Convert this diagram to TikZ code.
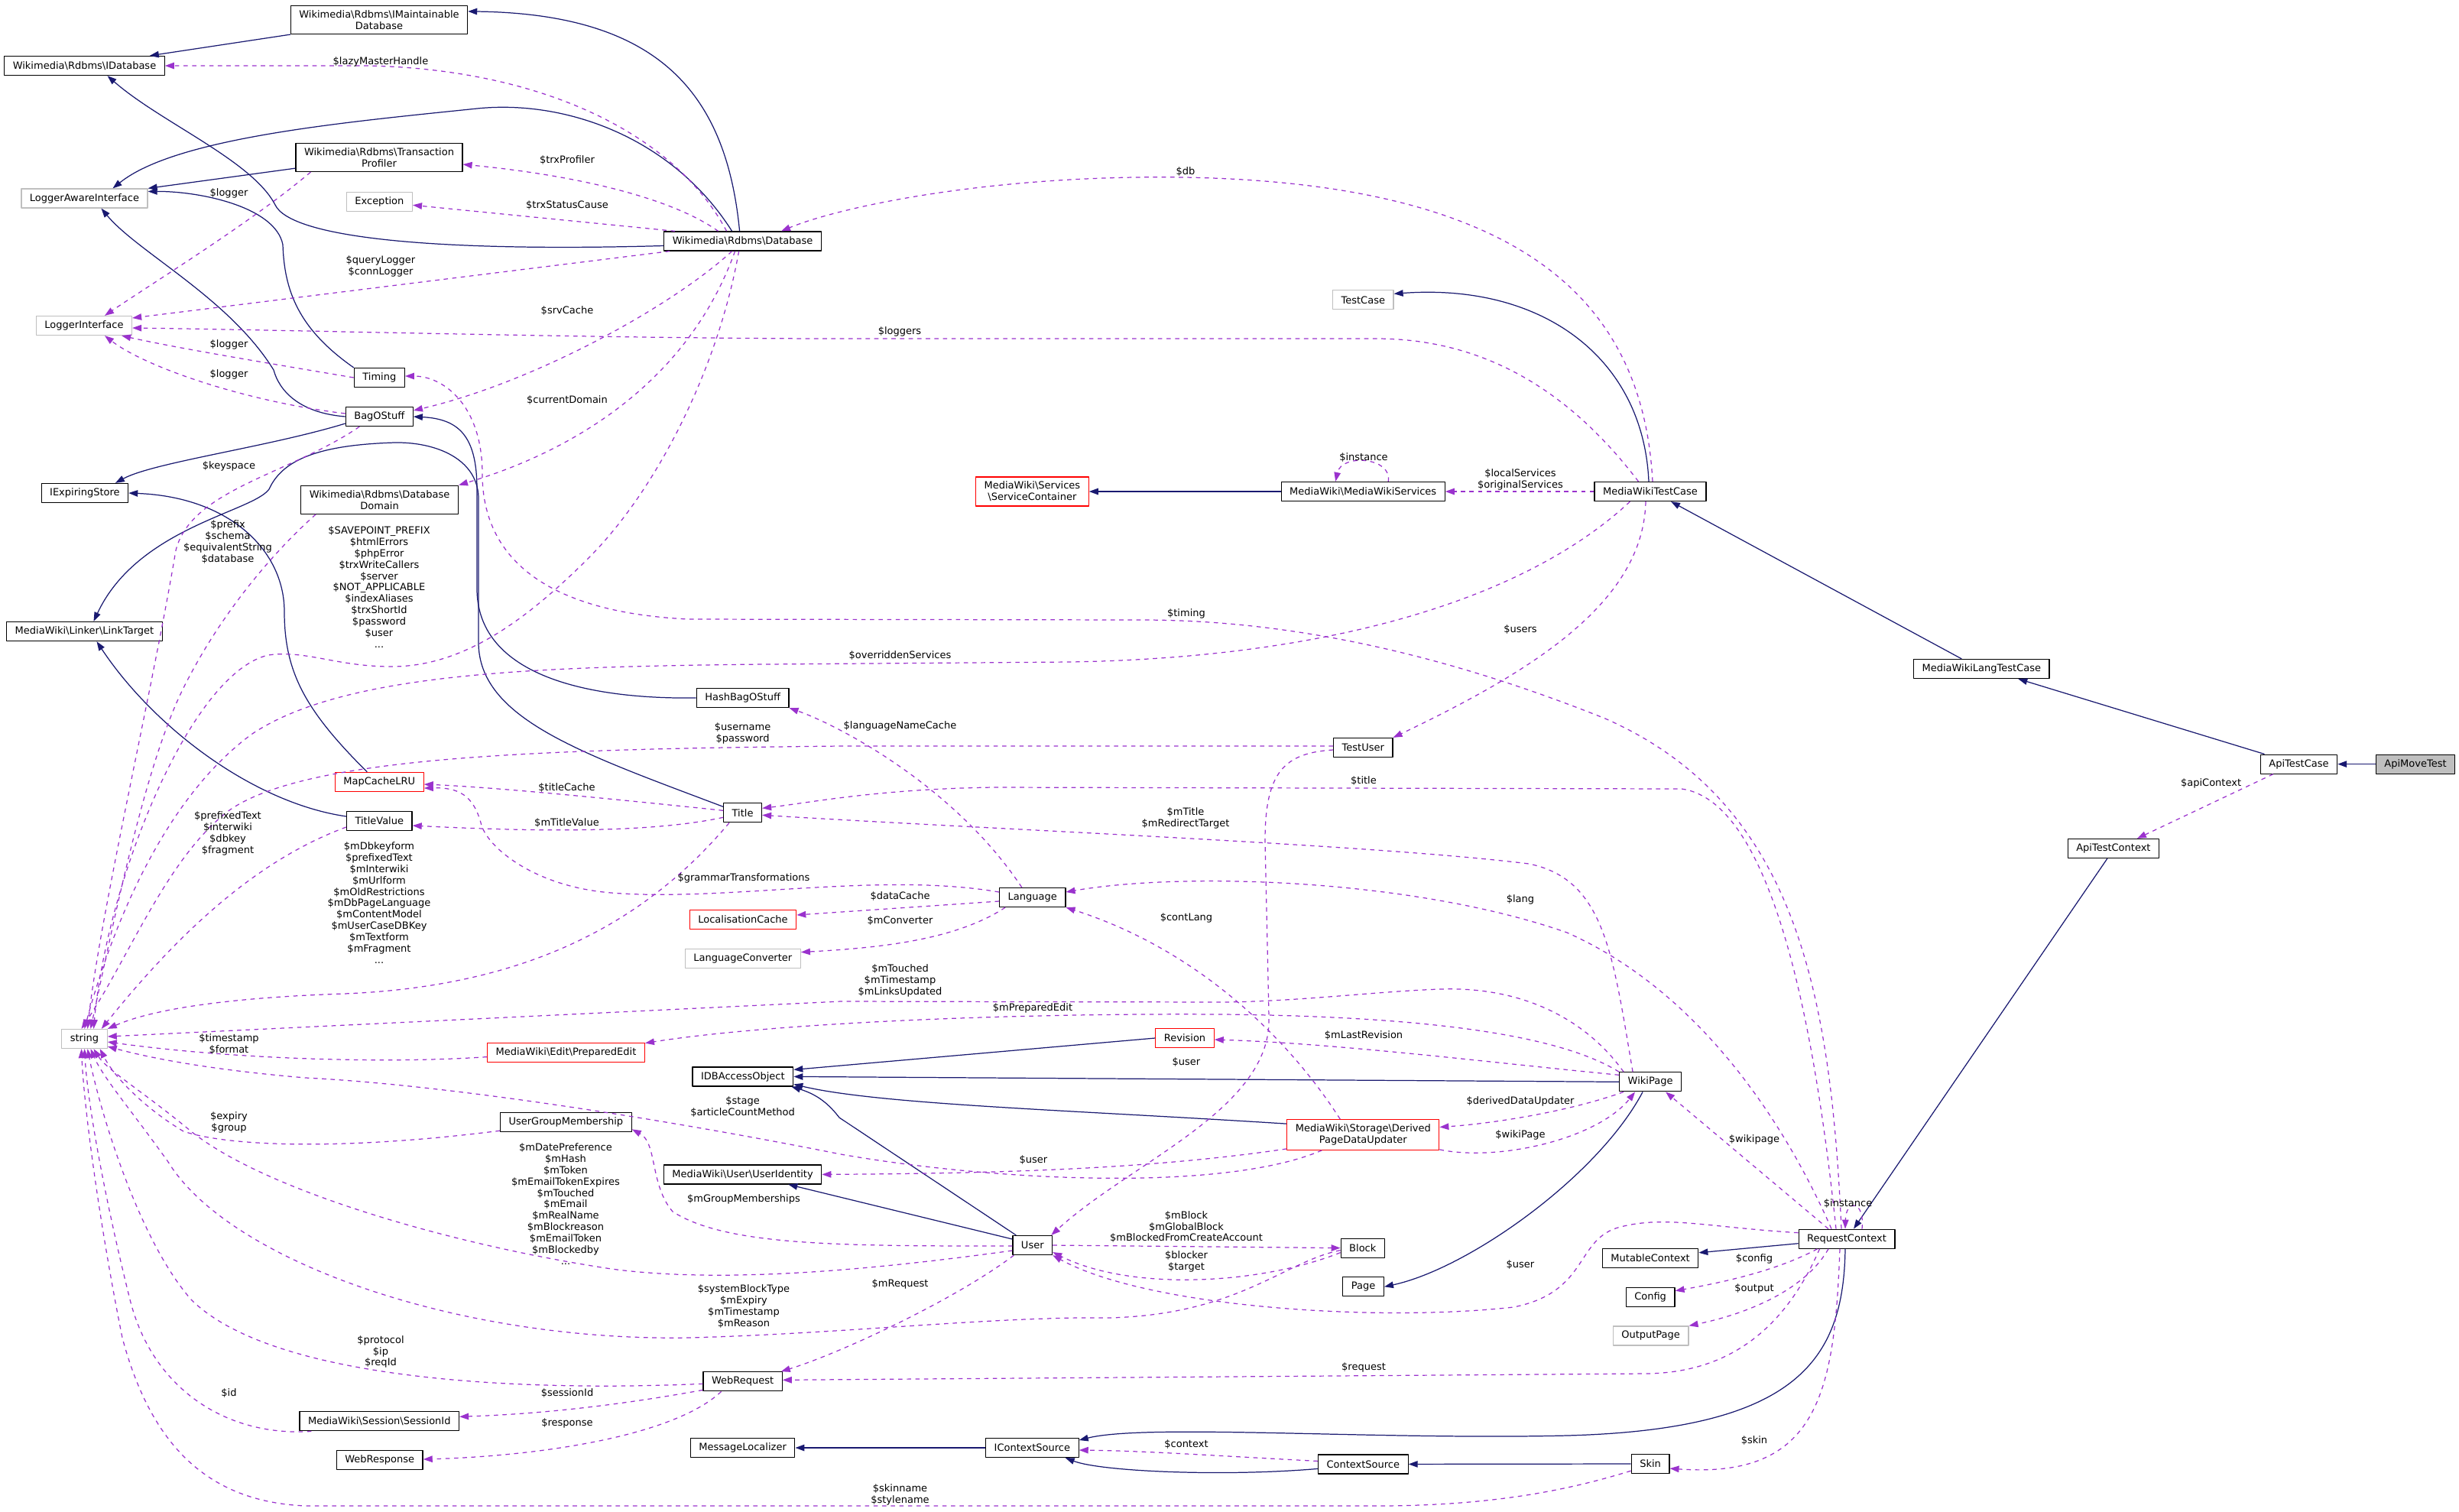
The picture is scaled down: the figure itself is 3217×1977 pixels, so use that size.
\documentclass[tikz,border=0pt]{standalone}
\usepackage{fontspec}
\setmainfont{DejaVu Sans}
\usetikzlibrary{arrows.meta,calc}
\definecolor{midnight}{HTML}{191970}
\definecolor{orchid}{HTML}{9A32CD}
\definecolor{boxgray}{HTML}{BFBFBF}
\newcommand\dgfont{\fontsize{3.7}{4.25}\selectfont}
\newcommand\bs{\textbackslash}

\begin{document}
\begin{tikzpicture}[x=0.1mm,y=-0.1mm,font=\dgfont,line join=round]
  \tikzset{
    cls/.style={draw=black,fill=white,line width=0.35pt,inner xsep=1.1mm,inner ysep=0.6mm,minimum height=2.5mm,align=center},
    ext/.style={cls,draw=boxgray},
    trunc/.style={cls,draw=red},
    self/.style={cls,fill=boxgray},
    inh/.style={midnight,line width=0.35pt,-{Triangle[length=1.2mm,width=0.85mm]}},
    use/.style={orchid,line width=0.35pt,dash pattern=on 1.6pt off 1.6pt,-{Triangle[length=1.2mm,width=0.85mm]}},
    lbl/.style={align=center,inner sep=0pt}
  }
  \useasboundingbox (0,0) rectangle (3217,1977);
  % classes
  \node[cls] (imdb) at (496,26) {Wikimedia\bs Rdbms\bs IMaintainable\\Database};
  \node[cls] (idb) at (110.5,86) {Wikimedia\bs Rdbms\bs IDatabase};
  \node[cls] (tprof) at (496,206) {Wikimedia\bs Rdbms\bs Transaction\\Profiler};
  \node[ext] (lai) at (110.5,259.5) {LoggerAwareInterface};
  \node[ext] (exc) at (496.4,264.3) {Exception};
  \node[cls] (db) at (971.6,315.5) {Wikimedia\bs Rdbms\bs Database};
  \node[ext] (li) at (110,426) {LoggerInterface};
  \node[cls] (timing) at (496.3,494) {Timing};
  \node[cls] (bag) at (496.3,545) {BagOStuff};
  \node[cls] (ies) at (110.9,645) {IExpiringStore};
  \node[cls] (dom) at (496.6,653.7) {Wikimedia\bs Rdbms\bs Database\\Domain};
  \node[cls] (lt) at (110.5,826) {MediaWiki\bs Linker\bs LinkTarget};
  \node[cls] (hbag) at (971.6,913) {HashBagOStuff};
  \node[trunc] (mcl) at (496.3,1023) {MapCacheLRU};
  \node[cls] (tv) at (496.3,1074) {TitleValue};
  \node[cls] (title) at (971.6,1063.3) {Title};
  \node[trunc] (lc) at (972,1203) {LocalisationCache};
  \node[ext] (lconv) at (971.8,1253.6) {LanguageConverter};
  \node[ext] (str) at (110.5,1359) {string};
  \node[trunc] (pedit) at (740.5,1376.6) {MediaWiki\bs Edit\bs PreparedEdit};
  \node[cls] (idbao) at (971.9,1408.4) {IDBAccessObject};
  \node[cls] (ugm) at (740.4,1468.2) {UserGroupMembership};
  \node[cls] (uid) at (971.6,1536.4) {MediaWiki\bs User\bs UserIdentity};
  \node[cls] (wreq) at (971.6,1807.3) {WebRequest};
  \node[cls] (sid) at (496.3,1859.3) {MediaWiki\bs Session\bs SessionId};
  \node[cls] (wresp) at (496.7,1910) {WebResponse};
  \node[cls] (msgl) at (971.6,1894) {MessageLocalizer};
  \node[ext] (tcase) at (1783.3,392.3) {TestCase};
  \node[trunc] (svc) at (1350.4,643) {MediaWiki\bs Services\\\bs ServiceContainer};
  \node[cls] (mws) at (1783.2,643) {MediaWiki\bs MediaWikiServices};
  \node[cls] (mwtc) at (2159,643) {MediaWikiTestCase};
  \node[cls] (tuser) at (1783.3,978) {TestUser};
  \node[cls] (lang) at (1350.8,1174) {Language};
  \node[trunc] (rev) at (1550,1358) {Revision};
  \node[trunc] (dpdu) at (1783.3,1484.5) {MediaWiki\bs Storage\bs Derived\\PageDataUpdater};
  \node[cls] (user) at (1350.8,1629) {User};
  \node[cls] (block) at (1782.8,1632.6) {Block};
  \node[cls] (page) at (1783.6,1683.3) {Page};
  \node[cls] (ics) at (1350.4,1894) {IContextSource};
  \node[cls] (csrc) at (1783.3,1915.4) {ContextSource};
  \node[cls] (mwltc) at (2592.3,875) {MediaWikiLangTestCase};
  \node[cls] (atc) at (3007.5,999.6) {ApiTestCase};
  \node[self] (amt) at (3160,999.6) {ApiMoveTest};
  \node[cls] (actx) at (2764.9,1110) {ApiTestContext};
  \node[cls] (wp) at (2159.1,1415.3) {WikiPage};
  \node[cls] (rc) at (2416,1620.7) {RequestContext};
  \node[cls] (mctx) at (2159.1,1645.8) {MutableContext};
  \node[cls] (config) at (2159.1,1696.7) {Config};
  \node[ext] (opage) at (2159.6,1747.4) {OutputPage};
  \node[cls] (skin) at (2159.1,1915) {Skin};
  % inheritance
  \draw[inh] (imdb.south west) -- ($(idb.north east)+(-20,0)$);
  \draw[inh] ($(db.north)+(-4,0)$) .. controls (950,120) and (860,18) .. ($(imdb.north east)+(0,8)$);
  \draw[inh] ($(db.west)+(0,6)$) .. controls (560,330) and (380,310) .. (360,268) .. controls (330,210) and (210,160) .. ($(idb.south)+(30,0)$);
  \draw[inh] ($(db.north)+(-14,0)$) .. controls (880,180) and (740,130) .. (624,142) .. controls (450,160) and (230,180) .. ($(lai.north)+(37,0)$);
  \draw[inh] ($(tprof.south west)+(0,-5)$) -- (lai.north east);
  \draw[inh] (timing.north west) .. controls (390,430) and (372,380) .. (370,320) .. controls (360,270) and (260,250) .. ($(lai.east)+(0,-9)$);
  \draw[inh] (bag.west) .. controls (390,540) and (365,510) .. (358,484) .. controls (300,390) and (180,330) .. ($(lai.south)+(22,0)$);
  \draw[inh] ($(bag.west)+(0,9)$) .. controls (350,585) and (200,605) .. ($(ies.north)+(40,0)$);
  \draw[inh] (hbag.west) .. controls (760,915) and (624,880) .. (624,770) -- (624,640) .. controls (624,570) and (600,548) .. (bag.east);
  \draw[inh] ($(title.west)+(0,-8)$) .. controls (760,985) and (626,940) .. (626,840) -- (626,650) .. controls (624,600) and (570,578) .. (516,579) .. controls (420,582) and (370,600) .. (352,640) .. controls (330,670) and (180,690) .. ($(lt.north)+(12,0)$);
  \draw[inh] ($(tv.west)+(0,-6)$) .. controls (330,1050) and (200,950) .. ($(lt.south)+(16,0)$);
  \draw[inh] ($(mcl.north)+(-16,0)$) .. controls (400,930) and (372,880) .. (372,800) .. controls (372,720) and (300,650) .. (ies.east);
  \draw[inh] (mws.west) -- (svc.east);
  \draw[inh] ($(mwtc.north)+(-2,0)$) .. controls (2150,470) and (2020,370) .. ($(tcase.east)+(0,-8)$);
  \draw[inh] ($(mwltc.north)+(-26,0)$) -- ($(mwtc.south)+(27,0)$);
  \draw[inh] ($(atc.north)+(-45,0)$) -- ($(mwltc.south)+(48,0)$);
  \draw[inh] (amt.west) -- (atc.east);
  \draw[inh] ($(rc.south)+(-2,0)$) .. controls (2412,1780) and (2350,1870) .. (2050,1878) .. controls (1800,1884) and (1500,1862) .. ($(ics.east)+(0,-10)$);
  \draw[inh] ($(actx.south)+(-8,0)$) -- ($(rc.north)+(9,0)$);
  \draw[inh] ($(rc.west)+(0,6)$) -- ($(mctx.east)+(0,-7)$);
  \draw[inh] ($(csrc.west)+(0,6)$) .. controls (1600,1932) and (1440,1925) .. ($(ics.south east)+(-18,0)$);
  \draw[inh] (skin.west) -- (csrc.east);
  \draw[inh] (ics.west) -- (msgl.east);
  \draw[inh] (wp.west) -- (idbao.east);
  \draw[inh] (rev.west) -- ($(idbao.east)+(0,-9)$);
  \draw[inh] ($(dpdu.north west)+(0,6)$) .. controls (1400,1452) and (1150,1445) .. ($(idbao.east)+(0,10)$);
  \draw[inh] ($(user.north west)+(5,0)$) -- (1098,1462) .. controls (1085,1445) and (1070,1432) .. ($(idbao.south east)+(-3,0)$);
  \draw[inh] ($(user.west)+(0,-8)$) -- ($(uid.south east)+(-44,0)$);
  \draw[inh] ($(wp.south)+(-10,0)$) .. controls (2090,1540) and (1920,1660) .. (page.east);
  % usage
  \draw[use] ($(db.north)+(-21,0)$) .. controls (880,170) and (700,90) .. (480,86) -- (idb.east);
  \draw[use] ($(db.north)+(-32,0)$) .. controls (880,260) and (760,230) .. ($(tprof.east)+(0,9)$);
  \draw[use] ($(db.north west)+(15,0)$) -- ($(exc.east)+(0,4)$);
  \draw[use] ($(db.south west)+(8,0)$) -- ($(li.east)+(0,-10)$);
  \draw[use] ($(db.south)+(-14,0)$) .. controls (880,400) and (700,500) .. ($(bag.east)+(0,-8)$);
  \draw[use] ($(db.south)+(-10,0)$) .. controls (900,500) and (750,590) .. (dom.north east);
  \draw[use] ($(db.south)+(-5,0)$) .. controls (940,480) and (860,640) .. (770,730) .. controls (680,820) and (600,872) .. (512,872) .. controls (440,872) and (400,850) .. (351,857) .. controls (250,880) and (140,1150) .. ($(str.north)+(12,0)$);
  \draw[use] ($(dom.south west)+(20,0)$) .. controls (360,720) and (290,800) .. (240,900) .. controls (190,1000) and (150,1200) .. ($(str.north)+(8,0)$);
  \draw[use] ($(tprof.south west)+(20,0)$) .. controls (330,290) and (200,370) .. ($(li.north)+(27,0)$);
  \draw[use] (timing.west) .. controls (350,475) and (230,455) .. ($(li.south east)+(-14,0)$);
  \draw[use] ($(bag.west)+(0,-4)$) .. controls (320,525) and (190,480) .. ($(li.south)+(27,0)$);
  \draw[use] ($(bag.south)+(-26,0)$) .. controls (380,620) and (250,640) .. (230,720) .. controls (200,900) and (130,1200) .. ($(str.north)+(4,0)$);
  \draw[use] ($(mwtc.north)+(3,0)$) .. controls (2150,400) and (2000,240) .. (1550,232) .. controls (1300,228) and (1100,270) .. ($(db.north east)+(-53,0)$);
  \draw[use] ($(mwtc.north west)+(58,0)$) .. controls (2060,520) and (1950,443) .. (1800,443) -- (1100,443) .. controls (800,443) and (400,432) .. ($(li.east)+(0,3)$);
  \draw[use] (mwtc.west) -- (mws.east);
  \draw[use] ($(mwtc.south west)+(47,0)$) .. controls (2000,780) and (1750,860) .. (1400,866) -- (1000,869) .. controls (700,872) and (450,880) .. (330,960) .. controls (220,1040) and (150,1200) .. (str.north);
  \draw[use] ($(mwtc.south)+(-6,0)$) .. controls (2150,790) and (2000,880) .. (tuser.north east);
  \draw[use] ($(rc.north)+(-7,0)$) .. controls (2395,1300) and (2350,1050) .. (2100,940) .. controls (1900,860) and (1700,812) .. (1500,811) -- (900,810) .. controls (700,800) and (631,720) .. (631,620) .. controls (631,530) and (580,492) .. ($(timing.east)+(0,-2)$);
  \draw[use] ($(rc.north)+(-14,0)$) .. controls (2380,1400) and (2330,1050) .. (2200,1032) -- (1300,1030) .. controls (1150,1032) and (1060,1050) .. ($(title.east)+(0,-6)$);
  \draw[use] ($(wp.north)+(-23,0)$) .. controls (2110,1250) and (2100,1150) .. (2000,1130) .. controls (1800,1105) and (1300,1085) .. ($(title.east)+(0,3)$);
  \draw[use] ($(rc.north)+(-20,0)$) .. controls (2340,1480) and (2230,1300) .. (2050,1220) .. controls (1850,1150) and (1550,1140) .. ($(lang.east)+(0,-7)$);
  \draw[use] ($(wp.north west)+(6,0)$) .. controls (2080,1340) and (2000,1290) .. (1884,1294) .. controls (1800,1297) and (1700,1310) .. (1600,1311) -- (1100,1310) -- ($(str.east)+(0,-3)$);
  \draw[use] (wp.north west) .. controls (2050,1360) and (1900,1330) .. (1600,1327) .. controls (1300,1325) and (1000,1340) .. ($(pedit.east)+(0,-12)$);
  \draw[use] ($(wp.west)+(0,-9)$) .. controls (1950,1390) and (1750,1365) .. ($(rev.east)+(0,2)$);
  \draw[use] ($(wp.south west)+(6,0)$) .. controls (2050,1455) and (1950,1470) .. ($(dpdu.east)+(0,-10)$);
  \draw[use] ($(dpdu.south east)+(0,-1)$) .. controls (1960,1520) and (2090,1490) .. ($(wp.south)+(-20,0)$);
  \draw[use] ($(dpdu.north)+(-30,0)$) .. controls (1680,1350) and (1560,1240) .. (lang.south east);
  \draw[use] ($(dpdu.south west)+(0,-2)$) .. controls (1500,1530) and (1300,1535) .. (uid.east);
  \draw[use] ($(dpdu.south)+(-54,0)$) .. controls (1600,1560) and (1300,1545) .. (1100,1510) .. controls (900,1470) and (600,1420) .. (400,1410) .. controls (280,1400) and (200,1385) .. ($(str.east)+(0,10)$);
  \draw[use] ($(rc.west)+(0,-8)$) .. controls (2230,1605) and (2180,1590) .. (2120,1605) .. controls (2060,1620) and (2080,1690) .. (1980,1710) .. controls (1800,1730) and (1500,1710) .. (user.south east);
  \draw[use] ($(tuser.west)+(0,3)$) .. controls (1680,985) and (1655,1010) .. (1655,1100) -- (1660,1330) .. controls (1665,1450) and (1480,1520) .. ($(user.north east)+(-2,0)$);
  \draw[use] ($(tuser.west)+(0,-2)$) -- (1100,976) .. controls (700,980) and (400,990) .. (300,1060) .. controls (220,1120) and (170,1250) .. ($(str.north)+(-4,0)$);
  \draw[use] ($(lang.north)+(-14,0)$) .. controls (1250,1030) and (1100,950) .. (hbag.south east);
  \draw[use] ($(lang.west)+(0,-7)$) .. controls (1150,1140) and (950,1180) .. (800,1168) .. controls (700,1160) and (640,1110) .. (630,1080) .. controls (620,1040) and (600,1030) .. ($(mcl.east)+(0,8)$);
  \draw[use] ($(lang.west)+(0,5)$) -- ($(lc.east)+(0,-6)$);
  \draw[use] ($(lang.south west)+(8,0)$) .. controls (1250,1230) and (1150,1240) .. ($(lconv.east)+(0,-8)$);
  \draw[use] ($(title.west)+(0,-3)$) .. controls (800,1045) and (650,1030) .. ($(mcl.east)+(0,3)$);
  \draw[use] ($(title.west)+(0,6)$) .. controls (850,1090) and (700,1088) .. ($(tv.east)+(0,6)$);
  \draw[use] ($(title.south west)+(8,0)$) .. controls (850,1200) and (700,1290) .. (450,1300) .. controls (300,1305) and (200,1320) .. (str.north east);
  \draw[use] ($(tv.west)+(0,8)$) .. controls (350,1120) and (250,1200) .. ($(str.north east)+(-8,0)$);
  \draw[use] ($(pedit.west)+(0,6)$) .. controls (500,1392) and (300,1385) .. ($(str.east)+(0,4)$);
  \draw[use] ($(ugm.west)+(0,11)$) .. controls (450,1505) and (300,1500) .. (240,1480) .. controls (190,1450) and (150,1410) .. ($(str.south east)+(-10,0)$);
  \draw[use] ($(user.west)+(0,1)$) .. controls (1100,1630) and (950,1630) .. (880,1585) .. controls (850,1550) and (860,1495) .. ($(ugm.south east)+(0,-4)$);
  \draw[use] ($(user.west)+(0,7)$) .. controls (1150,1660) and (950,1680) .. (800,1660) .. controls (600,1630) and (350,1560) .. (250,1480) .. controls (190,1430) and (140,1400) .. ($(str.south)+(12,0)$);
  \draw[use] (user.east) -- (block.west);
  \draw[use] ($(block.west)+(0,6)$) .. controls (1650,1680) and (1480,1690) .. ($(user.east)+(0,9)$);
  \draw[use] ($(block.west)+(0,3)$) .. controls (1680,1650) and (1620,1720) .. (1450,1724) .. controls (1300,1722) and (1100,1745) .. (900,1750) .. controls (600,1755) and (300,1650) .. (220,1520) .. controls (170,1450) and (135,1410) .. ($(str.south)+(8,0)$);
  \draw[use] ($(user.south west)+(2,0)$) .. controls (1250,1700) and (1100,1770) .. ($(wreq.north east)+(-2,0)$);
  \draw[use] ($(rc.south west)+(28,0)$) .. controls (2330,1750) and (2250,1797) .. (2150,1797) -- ($(wreq.east)+(0,-2)$);
  \draw[use] ($(wreq.west)+(0,3)$) .. controls (650,1822) and (350,1800) .. (250,1700) .. controls (180,1620) and (130,1450) .. ($(str.south)+(4,0)$);
  \draw[use] ($(wreq.south west)+(0,-2)$) .. controls (800,1840) and (700,1850) .. ($(sid.east)+(0,-6)$);
  \draw[use] ($(wreq.south)+(-28,0)$) .. controls (880,1880) and (700,1905) .. ($(wresp.east)+(0,-1)$);
  \draw[use] ($(sid.south west)+(16,0)$) .. controls (300,1880) and (200,1820) .. (170,1700) .. controls (140,1580) and (115,1450) .. (str.south);
  \draw[use] ($(skin.south west)+(0,-4)$) .. controls (2050,1950) and (1950,1970) .. (1800,1970) -- (400,1970) .. controls (280,1965) and (200,1900) .. (160,1750) .. controls (130,1600) and (110,1450) .. ($(str.south)+(-4,0)$);
  \draw[use] ($(csrc.west)+(0,-4)$) .. controls (1600,1905) and (1500,1898) .. ($(ics.east)+(0,3)$);
  \draw[use] ($(rc.south)+(-9,0)$) .. controls (2400,1820) and (2380,1935) .. ($(skin.east)+(0,6)$);
  \draw[use] ($(rc.south west)+(25,0)$) .. controls (2320,1665) and (2240,1680) .. ($(config.east)+(0,-8)$);
  \draw[use] ($(rc.south)+(-24,0)$) .. controls (2360,1690) and (2280,1720) .. (opage.north east);
  \draw[use] ($(rc.north)+(-24,0)$) -- ($(wp.south east)+(-21,0)$);
  \draw[use] ($(rc.north)+(20,0)$) .. controls (2440,1570) and (2415,1568) .. ($(rc.north)+(-2,0)$);
  \draw[use] ($(mws.north)+(33,0)$) .. controls (1822,598) and (1755,593) .. ($(mws.north)+(-36,0)$);
  \draw[use] ($(atc.south west)+(17,0)$) -- ($(actx.north)+(31,0)$);
  % member names
  \node[lbl] (t-lazy) at (498,81) {\$lazyMasterHandle};
  \node[lbl] (t-trxp) at (742,210) {\$trxProfiler};
  \node[lbl] (t-trxs) at (742,268.5) {\$trxStatusCause};
  \node[lbl] (t-qlog) at (498,348) {\$queryLogger\\\$connLogger};
  \node[lbl] (t-srv) at (742,406) {\$srvCache};
  \node[lbl] (t-cdom) at (742,523) {\$currentDomain};
  \node[lbl] (t-dbstr) at (496,768) {\$SAVEPOINT\_PREFIX\\\$htmlErrors\\\$phpError\\\$trxWriteCallers\\\$server\\\$NOT\_APPLICABLE\\\$indexAliases\\\$trxShortId\\\$password\\\$user\\...};
  \node[lbl] (t-domstr) at (298,709) {\$prefix\\\$schema\\\$equivalentString\\\$database};
  \node[lbl] (t-log1) at (299.5,253) {\$logger};
  \node[lbl] (t-log2) at (299.5,451) {\$logger};
  \node[lbl] (t-log3) at (299.5,489.5) {\$logger};
  \node[lbl] (t-keys) at (299.5,610) {\$keyspace};
  \node[lbl] (t-db) at (1551,224) {\$db};
  \node[lbl] (t-logs) at (1177,434) {\$loggers};
  \node[lbl] (t-serv) at (1989,627) {\$localServices\\\$originalServices};
  \node[lbl] (t-inst1) at (1784,598) {\$instance};
  \node[lbl] (t-over) at (1177.5,857.4) {\$overriddenServices};
  \node[lbl] (t-users) at (1989,823) {\$users};
  \node[lbl] (t-timing) at (1552,803) {\$timing};
  \node[lbl] (t-uname) at (971.6,959.6) {\$username\\\$password};
  \node[lbl] (t-lnc) at (1177.5,949.4) {\$languageNameCache};
  \node[lbl] (t-title) at (1784,1021.7) {\$title};
  \node[lbl] (t-mtitle) at (1551,1070) {\$mTitle\\\$mRedirectTarget};
  \node[lbl] (t-tcache) at (741.5,1030.6) {\$titleCache};
  \node[lbl] (t-mtv) at (741.5,1076.6) {\$mTitleValue};
  \node[lbl] (t-tvstr) at (298,1090) {\$prefixedText\\\$interwiki\\\$dbkey\\\$fragment};
  \node[lbl] (t-tstr) at (496,1181) {\$mDbkeyform\\\$prefixedText\\\$mInterwiki\\\$mUrlform\\\$mOldRestrictions\\\$mDbPageLanguage\\\$mContentModel\\\$mUserCaseDBKey\\\$mTextform\\\$mFragment\\...};
  \node[lbl] (t-gram) at (973,1149) {\$grammarTransformations};
  \node[lbl] (t-dcache) at (1177.5,1172) {\$dataCache};
  \node[lbl] (t-conv) at (1177.5,1204.7) {\$mConverter};
  \node[lbl] (t-lang) at (1989,1177) {\$lang};
  \node[lbl] (t-clang) at (1552,1201) {\$contLang};
  \node[lbl] (t-touch) at (1177.5,1283) {\$mTouched\\\$mTimestamp\\\$mLinksUpdated};
  \node[lbl] (t-pedit) at (1351,1318.6) {\$mPreparedEdit};
  \node[lbl] (t-tstamp) at (299.5,1366) {\$timestamp\\\$format};
  \node[lbl] (t-lrev) at (1784,1354.8) {\$mLastRevision};
  \node[lbl] (t-user1) at (1552,1389.6) {\$user};
  \node[lbl] (t-stage) at (971.6,1447.6) {\$stage\\\$articleCountMethod};
  \node[lbl] (t-ddu) at (1989,1440.7) {\$derivedDataUpdater};
  \node[lbl] (t-wpage1) at (1989,1484.7) {\$wikiPage};
  \node[lbl] (t-wpage2) at (2295,1491) {\$wikipage};
  \node[lbl] (t-expiry) at (299.5,1468) {\$expiry\\\$group};
  \node[lbl] (t-user2) at (1352,1517.4) {\$user};
  \node[lbl] (t-mgm) at (973,1568.5) {\$mGroupMemberships};
  \node[lbl] (t-ustr) at (740,1575) {\$mDatePreference\\\$mHash\\\$mToken\\\$mEmailTokenExpires\\\$mTouched\\\$mEmail\\\$mRealName\\\$mBlockreason\\\$mEmailToken\\\$mBlockedby\\...};
  \node[lbl] (t-inst2) at (2417.6,1574.3) {\$instance};
  \node[lbl] (t-mblock) at (1552,1605) {\$mBlock\\\$mGlobalBlock\\\$mBlockedFromCreateAccount};
  \node[lbl] (t-blocker) at (1552,1650) {\$blocker\\\$target};
  \node[lbl] (t-user3) at (1989,1654.4) {\$user};
  \node[lbl] (t-config) at (2295,1646.8) {\$config};
  \node[lbl] (t-output) at (2295,1685.8) {\$output};
  \node[lbl] (t-mreq) at (1177.5,1680) {\$mRequest};
  \node[lbl] (t-bstr) at (973,1708.6) {\$systemBlockType\\\$mExpiry\\\$mTimestamp\\\$mReason};
  \node[lbl] (t-proto) at (498,1768.4) {\$protocol\\\$ip\\\$reqId};
  \node[lbl] (t-req) at (1784,1789.3) {\$request};
  \node[lbl] (t-sess) at (742,1822) {\$sessionId};
  \node[lbl] (t-id) at (299.5,1822) {\$id};
  \node[lbl] (t-resp) at (742,1861.8) {\$response};
  \node[lbl] (t-ctx) at (1552,1889.8) {\$context};
  \node[lbl] (t-skin) at (2295,1884.4) {\$skin};
  \node[lbl] (t-skinname) at (1177.5,1955) {\$skinname\\\$stylename};
  \node[lbl] (t-apictx) at (2892.6,1025.3) {\$apiContext};
\end{tikzpicture}
\end{document}
